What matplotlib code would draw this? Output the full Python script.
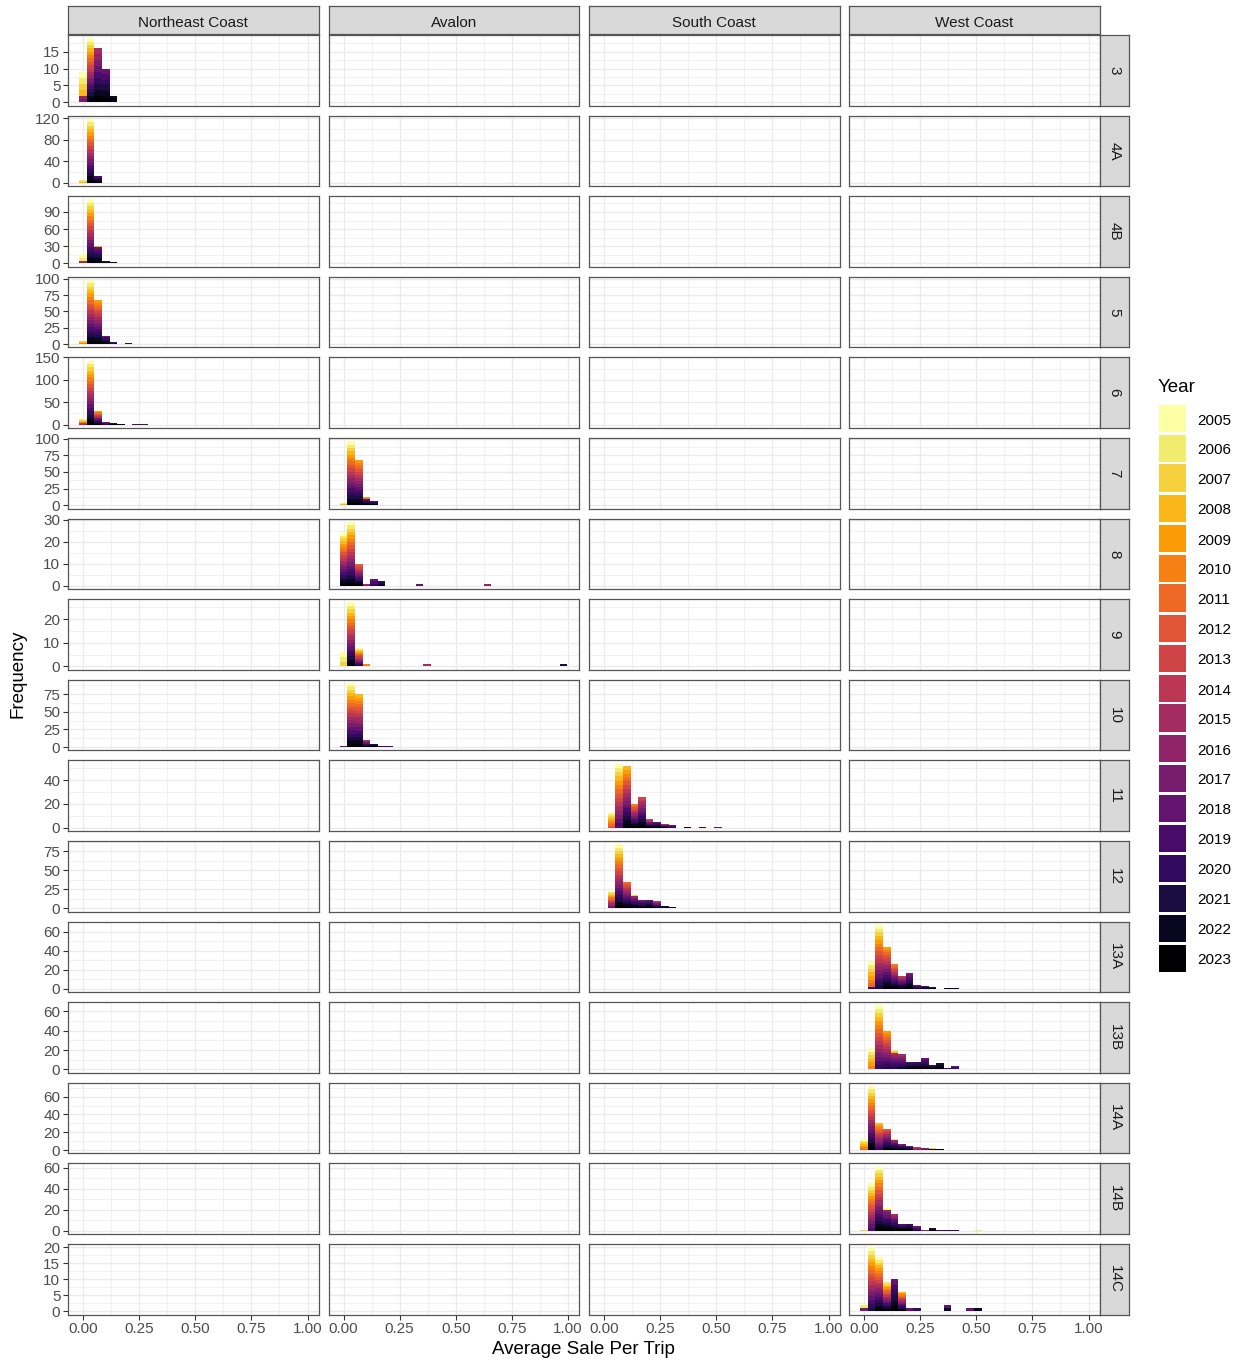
import numpy as np
import matplotlib
matplotlib.use('Agg')
import matplotlib.pyplot as plt
from matplotlib.patches import Rectangle

plt.rcParams['font.family'] = ['Liberation Sans', 'DejaVu Sans']

regions = ['Northeast Coast', 'Avalon', 'South Coast', 'West Coast']
areas = ['3', '4A', '4B', '5', '6', '7', '8', '9', '10', '11', '12',
         '13A', '13B', '14A', '14B', '14C']
area_region = ['Northeast Coast'] * 5 + ['Avalon'] * 4 + ['South Coast'] * 2 + ['West Coast'] * 5
years = list(range(2005, 2024))
bin_width = 0.0338
x_ticks = [0.00, 0.25, 0.50, 0.75, 1.00]
x_tick_labels = ['0.00', '0.25', '0.50', '0.75', '1.00']

# (bin index, count, first year, last year) - count shared over those years
bins_3 = [(0, 7, 2005, 2008), (0, 2, 2016, 2017), (1, 19, 2005, 2023),
          (2, 16, 2015, 2023), (3, 10, 2018, 2023), (4, 2, 2022, 2023)]
bins_4A = [(0, 6, 2005, 2008), (1, 119, 2005, 2023), (2, 12, 2019, 2023)]
bins_4B = [(0, 12, 2005, 2006), (0, 4, 2015, 2017), (1, 112, 2005, 2023),
           (2, 3, 2007, 2010), (2, 28, 2018, 2023), (3, 5, 2021, 2023), (4, 2, 2022, 2023)]
bins_5 = [(0, 4, 2007, 2010), (1, 98, 2005, 2023), (2, 68, 2009, 2023),
          (3, 13, 2018, 2023), (4, 3, 2019, 2021), (6, 1, 2020, 2020)]
bins_6 = [(0, 10, 2006, 2010), (0, 3, 2014, 2015), (1, 143, 2005, 2023),
          (2, 30, 2009, 2023), (3, 7, 2016, 2020), (4, 4, 2020, 2023),
          (5, 2, 2021, 2022), (7, 1, 2019, 2019), (8, 1, 2019, 2019)]
bins_7 = [(0, 4, 2006, 2008), (1, 96, 2005, 2023), (2, 68, 2009, 2023),
          (3, 2, 2009, 2010), (3, 10, 2018, 2023), (4, 6, 2019, 2023)]
bins_8 = [(0, 24, 2005, 2023), (1, 29, 2005, 2023), (2, 10, 2011, 2023),
          (3, 1, 2016, 2016), (4, 3, 2018, 2020), (5, 2, 2020, 2022),
          (10, 1, 2018, 2018), (19, 1, 2016, 2016)]
bins_9 = [(0, 6, 2005, 2007), (1, 27, 2005, 2023), (2, 8, 2005, 2021),
          (3, 1, 2010, 2010), (11, 1, 2015, 2015), (29, 1, 2021, 2021)]
bins_10 = [(0, 1, 2018, 2018), (1, 91, 2005, 2023), (2, 75, 2008, 2023),
           (3, 10, 2014, 2023), (4, 4, 2021, 2023), (5, 2, 2019, 2020), (6, 1, 2019, 2019)]
bins_11 = [(1, 13, 2005, 2012), (2, 54, 2005, 2019), (3, 52, 2008, 2023),
           (4, 20, 2010, 2023), (5, 26, 2013, 2023), (6, 7, 2013, 2023),
           (7, 5, 2018, 2023), (8, 3, 2015, 2022), (9, 2, 2018, 2020),
           (11, 1, 2022, 2022), (13, 1, 2020, 2020), (15, 1, 2018, 2018)]
bins_12 = [(1, 23, 2005, 2018), (2, 84, 2005, 2023), (3, 34, 2011, 2023),
           (4, 2, 2006, 2008), (4, 16, 2016, 2023), (5, 11, 2017, 2023),
           (6, 11, 2018, 2023), (7, 10, 2013, 2023), (8, 3, 2021, 2023), (9, 2, 2022, 2023)]
bins_13A = [(1, 27, 2005, 2011), (1, 2, 2019, 2020), (2, 67, 2005, 2021),
            (3, 44, 2009, 2023), (4, 26, 2010, 2023), (5, 13, 2014, 2023),
            (6, 17, 2017, 2023), (7, 4, 2018, 2021), (8, 3, 2019, 2022),
            (9, 2, 2021, 2023), (11, 1, 2022, 2022), (12, 1, 2022, 2022)]
bins_13B = [(0, 1, 2007, 2007), (1, 22, 2005, 2010), (2, 66, 2005, 2020),
            (3, 40, 2009, 2021), (4, 3, 2006, 2008), (4, 17, 2015, 2021),
            (5, 16, 2015, 2022), (6, 8, 2019, 2023), (7, 8, 2020, 2023),
            (8, 12, 2018, 2023), (9, 5, 2020, 2023), (10, 7, 2021, 2023),
            (11, 2, 2020, 2021), (12, 4, 2018, 2020)]
bins_14A = [(0, 12, 2005, 2011), (1, 72, 2005, 2023), (2, 31, 2008, 2020),
            (3, 24, 2012, 2023), (4, 1, 2006, 2006), (4, 11, 2016, 2023),
            (5, 7, 2017, 2023), (6, 5, 2018, 2022), (7, 4, 2013, 2016),
            (8, 2, 2017, 2018), (9, 1, 2007, 2007), (9, 1, 2022, 2022), (10, 1, 2023, 2023)]
bins_14B = [(0, 1, 2007, 2007), (1, 45, 2005, 2019), (2, 61, 2005, 2023),
            (3, 2, 2005, 2006), (3, 20, 2016, 2023), (4, 16, 2015, 2023),
            (5, 6, 2019, 2023), (6, 6, 2020, 2023), (7, 4, 2018, 2021),
            (8, 1, 2016, 2016), (9, 3, 2021, 2023), (10, 1, 2020, 2020),
            (11, 1, 2020, 2020), (12, 1, 2020, 2020), (15, 1, 2006, 2006)]
bins_14C = [(0, 1, 2006, 2006), (0, 1, 2017, 2017), (1, 20, 2005, 2021),
            (2, 17, 2005, 2023), (3, 9, 2006, 2023), (4, 10, 2018, 2023),
            (5, 6, 2008, 2023), (6, 1, 2018, 2018), (7, 1, 2020, 2020),
            (11, 1, 2018, 2018), (11, 1, 2022, 2022), (14, 1, 2018, 2018), (15, 1, 2022, 2022)]

area_bins = [bins_3, bins_4A, bins_4B, bins_5, bins_6, bins_7, bins_8, bins_9,
             bins_10, bins_11, bins_12, bins_13A, bins_13B, bins_14A, bins_14B, bins_14C]

y_ticks = [[0, 5, 10, 15], [0, 40, 80, 120], [0, 30, 60, 90], [0, 25, 50, 75, 100],
           [0, 50, 100, 150], [0, 25, 50, 75, 100], [0, 10, 20, 30], [0, 10, 20],
           [0, 25, 50, 75], [0, 20, 40], [0, 25, 50, 75], [0, 20, 40, 60],
           [0, 20, 40, 60], [0, 20, 40, 60], [0, 20, 40, 60], [0, 5, 10, 15, 20]]

n_bins = 30
year_colors = [plt.cm.inferno(1 - i / (len(years) - 1)) for i in range(len(years))]

W, H = 1242, 1362
fig = plt.figure(figsize=(W / 100, H / 100), dpi=100)


def px_axes(x, y, w, h):
    return fig.add_axes([x / W, 1 - (y + h) / H, w / W, h / H])


col_left = [68, 328.5, 589, 849]
panel_w = 250.5
row_top = [35 + i * 80.6 for i in range(len(areas))]
panel_h = 70.5
border = '#555555'
grid_col = '#EBEBEB'
xlim = (-0.067, 1.049)

centers = np.arange(n_bins) * bin_width

for r, area in enumerate(areas):
    counts = np.zeros((len(years), n_bins))
    for k, n, y0, y1 in area_bins[r]:
        yrs = range(y0, y1 + 1)
        for yr in yrs:
            counts[yr - 2005, k] += n / len(yrs)
    ymax = counts.sum(axis=0).max()
    ylim = (-0.05 * ymax, 1.05 * ymax)
    ticks = y_ticks[r]
    step = ticks[1] - ticks[0]
    minor_y = [t + step / 2 for t in [ticks[0] - step] + ticks]

    for c, reg in enumerate(regions):
        ax = px_axes(col_left[c], row_top[r], panel_w, panel_h)
        ax.set_xlim(*xlim)
        ax.set_ylim(*ylim)
        for xv in x_ticks:
            ax.axvline(xv, color=grid_col, lw=1.0, zorder=0)
        for xv in [0.125, 0.375, 0.625, 0.875]:
            ax.axvline(xv, color=grid_col, lw=0.5, zorder=0)
        for yv in ticks:
            ax.axhline(yv, color=grid_col, lw=1.0, zorder=0)
        for yv in minor_y:
            if ylim[0] < yv < ylim[1]:
                ax.axhline(yv, color=grid_col, lw=0.5, zorder=0)

        if reg == area_region[r]:
            bottom = np.zeros(n_bins)
            for i in range(len(years) - 1, -1, -1):
                h = counts[i]
                mask = h > 0
                if mask.any():
                    ax.bar(centers[mask], h[mask], width=bin_width, bottom=bottom[mask],
                           color=year_colors[i], linewidth=0, zorder=2)
                bottom += h

        for s in ax.spines.values():
            s.set_color(border)
            s.set_linewidth(0.9)
        ax.set_xticks(x_ticks)
        ax.tick_params(axis='both', colors='#333333', length=3.5, width=0.8,
                       labelsize=11, labelcolor='#4D4D4D', pad=2)
        if r == len(areas) - 1:
            ax.set_xticklabels(x_tick_labels)
        else:
            ax.tick_params(axis='x', length=0, labelbottom=False)
        if c == 0:
            ax.set_yticks(ticks)
            ax.set_yticklabels([str(t) for t in ticks])
        else:
            ax.set_yticks([])

    # right strip
    sax = px_axes(1100, row_top[r], 29, panel_h)
    sax.set_facecolor('#D9D9D9')
    sax.set_xticks([])
    sax.set_yticks([])
    for s in sax.spines.values():
        s.set_color(border)
        s.set_linewidth(0.9)
    sax.text(0.5, 0.5, area, rotation=-90, ha='center', va='center',
             fontsize=11, color='#1A1A1A', transform=sax.transAxes)

# top strips
for c, reg in enumerate(regions):
    sax = px_axes(col_left[c], 6, panel_w, 28)
    sax.set_facecolor('#D9D9D9')
    sax.set_xticks([])
    sax.set_yticks([])
    for s in sax.spines.values():
        s.set_color(border)
        s.set_linewidth(0.9)
    sax.text(0.5, 0.45, reg, ha='center', va='center_baseline', fontsize=11,
             color='#1A1A1A', transform=sax.transAxes)

fig.text(18 / W, 1 - 674 / H, 'Frequency', rotation=90, ha='center', va='center',
         fontsize=13.5, color='black')
fig.text(583 / W, 1 - 1350 / H, 'Average Sale Per Trip', ha='center', va='center',
         fontsize=13.5, color='black')

# legend
fig.text(1158 / W, 1 - 386 / H, 'Year', ha='left', va='center_baseline', fontsize=13.5)
for i, yr in enumerate(years):
    ky = 404.5 + i * 30
    fig.patches.append(Rectangle((1158.5 / W, 1 - (ky + 27.5) / H), 27.5 / W, 27.5 / H,
                                 transform=fig.transFigure, facecolor=year_colors[i],
                                 edgecolor='none'))
    fig.text(1197 / W, 1 - (ky + 14.5) / H, str(yr), ha='left', va='center_baseline',
             fontsize=11)

fig.savefig('out.png', dpi=100)
